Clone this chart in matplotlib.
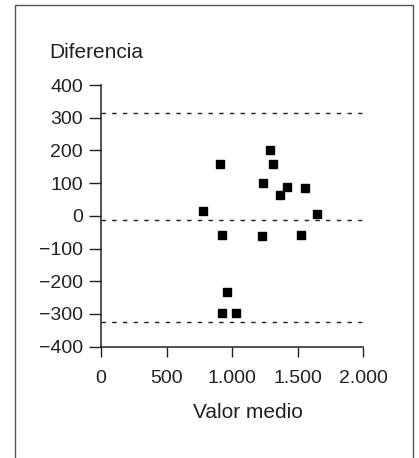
import matplotlib.pyplot as plt
from matplotlib.patches import Rectangle
from matplotlib.ticker import FuncFormatter

plt.rcParams['font.family'] = ['Liberation Sans', 'DejaVu Sans']

# Datos (valor medio, diferencia)
valor_medio = [781, 908, 1290, 1311, 1239, 1364, 1422, 1557, 1649,
               921, 1227, 1524, 964, 924, 1031]
diferencia = [14, 160, 200, 158, 101, 64, 88, 85, 6,
              -60, -63, -60, -232, -297, -297]

# Media y límites de concordancia
limites = [313, -12, -325]

x_ticks = [0, 500, 1000, 1500, 2000]
y_ticks = [-400, -300, -200, -100, 0, 100, 200, 300, 400]

color_texto = '#222222'

fig = plt.figure(figsize=(4.19, 4.58), dpi=100)
ax = fig.add_axes([101 / 419, 1 - 346.7 / 458, 262 / 419, 261.7 / 458])

ax.hlines(limites, 0, 1990, colors='#222222', linewidth=1.0,
          linestyles=(0, (3.2, 4.5)))
ax.plot(valor_medio, diferencia, 's', color='black', markersize=5.5,
        clip_on=False)

ax.set_xlim(0, 2000)
ax.set_ylim(-400, 400)
ax.set_xticks(x_ticks)
ax.set_yticks(y_ticks)
ax.xaxis.set_major_formatter(
    FuncFormatter(lambda v, p: f"{v:,.0f}".replace(',', '.')))

ax.spines['top'].set_visible(False)
ax.spines['right'].set_visible(False)
for s in ('left', 'bottom'):
    ax.spines[s].set_linewidth(1.1)
    ax.spines[s].set_color('#222222')

ax.tick_params(axis='x', length=7.5, width=1.0, pad=9, labelsize=14,
               colors=color_texto)
ax.tick_params(axis='y', length=9, width=1.0, pad=4, labelsize=14,
               colors=color_texto)

fig.text(49 / 419, 1 - 52 / 458, 'Diferencia', fontsize=15,
         color=color_texto, ha='left', va='center')
fig.text(247.5 / 419, 1 - 412.7 / 458, 'Valor medio', fontsize=15,
         color=color_texto, ha='center', va='center')

# Marco alrededor de la figura
fig.patches.append(Rectangle((14.5 / 419, -0.1), (413 - 14.5) / 419,
                             1.1 - 5.5 / 458, transform=fig.transFigure,
                             fill=False, edgecolor='#555555', linewidth=1.0))

fig.savefig('out.png', dpi=100)
